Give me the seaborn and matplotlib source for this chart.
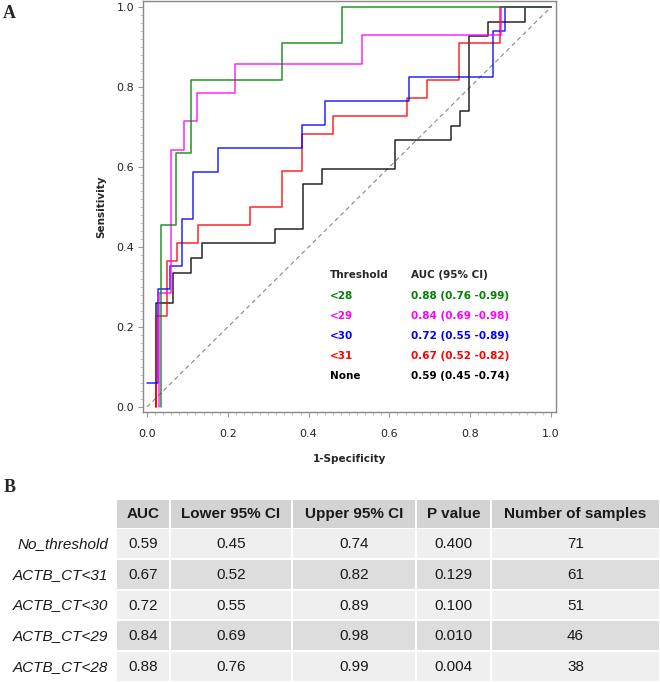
import pandas as pd
import matplotlib
matplotlib.use('Agg')
import matplotlib.pyplot as plt
import seaborn as sns
from matplotlib.patches import Rectangle
from matplotlib.ticker import MultipleLocator

# ROC curves (panel A), given as step points: x = where the next jump happens, y = level
fpr_28 = [0.035, 0.072, 0.110, 0.333, 0.483, 1.0]
tpr_28 = [0.0, 0.455, 0.636, 0.818, 0.909, 1.0]
fpr_29 = [0.029, 0.059, 0.092, 0.124, 0.219, 0.532, 0.877, 1.0]
tpr_29 = [0.0, 0.286, 0.643, 0.714, 0.786, 0.857, 0.929, 1.0]
fpr_30 = [0.0, 0.028, 0.057, 0.086, 0.115, 0.175, 0.383, 0.441, 0.649, 0.857, 0.886, 1.0]
tpr_30 = [0.059, 0.059, 0.294, 0.353, 0.471, 0.588, 0.647, 0.706, 0.765, 0.824, 0.941, 1.0]
fpr_31 = [0.022, 0.049, 0.075, 0.127, 0.255, 0.333, 0.384, 0.461, 0.643, 0.694, 0.772, 0.875, 1.0]
tpr_31 = [0.0, 0.227, 0.364, 0.409, 0.455, 0.500, 0.591, 0.682, 0.727, 0.773, 0.818, 0.909, 1.0]
fpr_none = [0.0215, 0.065, 0.110, 0.135, 0.318, 0.386, 0.432, 0.615, 0.752, 0.776, 0.798, 0.845, 0.936, 1.0]
tpr_none = [0.0, 0.261, 0.334, 0.372, 0.409, 0.445, 0.557, 0.594, 0.667, 0.703, 0.741, 0.927, 0.963, 1.0]
chance = [0.0, 1.0]

thresholds = ['<28', '<29', '<30', '<31', 'None']
auc_labels = ['0.88 (0.76 -0.99)', '0.84 (0.69 -0.98)', '0.72 (0.55 -0.89)',
              '0.67 (0.52 -0.82)', '0.59 (0.45 -0.74)']
colors = ['#008000', '#ff00ff', '#0000ff', '#ff0000', '#000000']

# Table (panel B)
col_headers = ['AUC', 'Lower 95% CI', 'Upper 95% CI', 'P value', 'Number of samples']
row_labels = ['No_threshold', 'ACTB_CT<31', 'ACTB_CT<30', 'ACTB_CT<29', 'ACTB_CT<28']
auc = ['0.59', '0.67', '0.72', '0.84', '0.88']
lower_ci = ['0.45', '0.52', '0.55', '0.69', '0.76']
upper_ci = ['0.74', '0.82', '0.89', '0.98', '0.99']
p_value = ['0.400', '0.129', '0.100', '0.010', '0.004']
n_samples = ['71', '61', '51', '46', '38']

sns.set_style('white')
plt.rcParams['font.family'] = ['DejaVu Sans']

curves = {'<28': (fpr_28, tpr_28), '<29': (fpr_29, tpr_29), '<30': (fpr_30, tpr_30),
          '<31': (fpr_31, tpr_31), 'None': (fpr_none, tpr_none)}
df = pd.concat([pd.DataFrame({'fpr': f, 'tpr': t, 'threshold': k}) for k, (f, t) in curves.items()],
               ignore_index=True)
palette = dict(zip(thresholds, colors))

fig = plt.figure(figsize=(6.6, 6.82), dpi=100)
ax = fig.add_axes([143 / 660, 1 - 412 / 682, 413 / 660, 411 / 682])

# chance line
sns.lineplot(x=chance, y=chance, ax=ax, color='#888888', linewidth=0.8,
             linestyle=(0, (4, 3)), legend=False)
sns.lineplot(data=df, x='fpr', y='tpr', hue='threshold', hue_order=thresholds[::-1],
             palette=palette, sort=False, estimator=None, drawstyle='steps-pre',
             linewidth=1.1, alpha=0.85, legend=False, ax=ax)

ax.set_xlim(-0.0099, 1.0124)
ax.set_ylim(-0.0125, 1.015)
ax.xaxis.set_major_locator(MultipleLocator(0.2))
ax.yaxis.set_major_locator(MultipleLocator(0.2))
ax.xaxis.set_minor_locator(MultipleLocator(0.02))
ax.yaxis.set_minor_locator(MultipleLocator(0.02))
ax.xaxis.set_major_formatter(matplotlib.ticker.FormatStrFormatter('%.1f'))
ax.yaxis.set_major_formatter(matplotlib.ticker.FormatStrFormatter('%.1f'))
ax.tick_params(which='major', direction='out', length=3.5, width=0.8, color='#999999',
               labelsize=8, labelcolor='#222222', bottom=True, left=True)
ax.tick_params(axis='x', which='major', pad=8.5)
ax.tick_params(axis='y', which='major', pad=3)
ax.tick_params(which='minor', direction='out', length=2, width=0.6, color='#bbbbbb',
               bottom=True, left=True)
for s in ax.spines.values():
    s.set_color('#888888')
    s.set_linewidth(1.0)

ax.set_xlabel('1-Specificity', fontsize=7.5, fontweight='bold', labelpad=11)
ax.set_ylabel('Sensitivity', fontsize=7.5, fontweight='bold', labelpad=7)

# AUC legend inside the plot
ax.text(0.453, 0.33, 'Threshold', fontsize=7.5, fontweight='bold', va='center')
ax.text(0.653, 0.33, 'AUC (95% CI)', fontsize=7.5, fontweight='bold', va='center')
for i, (th, lab, c) in enumerate(zip(thresholds, auc_labels, colors)):
    yy = 0.278 - 0.05 * i
    ax.text(0.453, yy, th, fontsize=7.5, fontweight='bold', color=c, va='center')
    ax.text(0.653, yy, lab, fontsize=7.5, fontweight='bold', color=c, va='center')

fig.text(3 / 660, 1 - 5 / 682, 'A', fontsize=13, fontweight='bold', va='top',
         family='Liberation Serif')
fig.text(4 / 660, 1 - 479 / 682, 'B', fontsize=13, fontweight='bold', va='top',
         family='Liberation Serif')

# table
tax = fig.add_axes([0, 0, 1, 184 / 682])
tax.set_xlim(0, 660)
tax.set_ylim(682, 498)
tax.axis('off')
col_edges = [116, 169.5, 292, 416, 491, 660]
header_top, header_bot = 499.5, 527.5
row_h = 30.8
tf = 'Liberation Sans'
for j, h in enumerate(col_headers):
    x0, x1 = col_edges[j], col_edges[j + 1]
    tax.add_patch(Rectangle((x0 + 1, header_top), x1 - x0 - 2, header_bot - header_top,
                            facecolor='#d3d3d3', edgecolor='none'))
    tax.text((x0 + x1) / 2, (header_top + header_bot) / 2 + 0.5, h, ha='center', va='center',
             fontsize=11, fontweight='bold', family=tf, color='#1a1a1a')

columns = [auc, lower_ci, upper_ci, p_value, n_samples]
for i, rl in enumerate(row_labels):
    top = header_bot + 1.5 + i * row_h
    bot = top + row_h - 2
    fc = '#efefef' if i % 2 == 0 else '#dddddd'
    for j, col in enumerate(columns):
        x0, x1 = col_edges[j], col_edges[j + 1]
        tax.add_patch(Rectangle((x0 + 1, top), x1 - x0 - 2, bot - top,
                                facecolor=fc, edgecolor='none'))
        tax.text((x0 + x1) / 2, (top + bot) / 2 + 0.5, col[i], ha='center', va='center',
                 fontsize=11, family=tf, color='#1a1a1a')
    tax.text(108, (top + bot) / 2 + 0.5, rl, ha='right', va='center', fontsize=11,
             family=tf, style='italic', color='#1a1a1a')

fig.savefig('out.png', dpi=100)
